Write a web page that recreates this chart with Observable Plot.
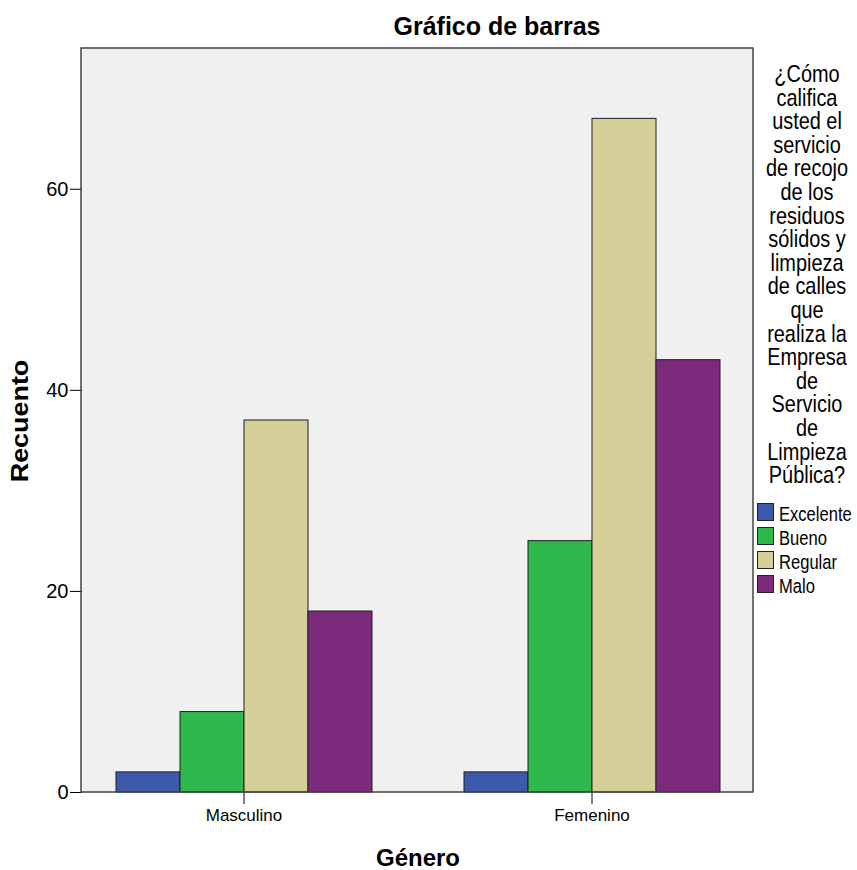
<!DOCTYPE html>
<html><head><meta charset="utf-8">
<script src="https://cdn.jsdelivr.net/npm/d3@7"></script>
<script src="https://cdn.jsdelivr.net/npm/@observablehq/plot@0.6"></script>
<style>
body{margin:0;background:#fff;}
#chart{width:857px;height:870px;}
</style></head><body><div id="chart"></div>
<script>
const genders = ["Masculino", "Femenino"];
const ratings = ["Excelente", "Bueno", "Regular", "Malo"];
const masculino = [2, 8, 37, 18];
const femenino = [2, 25, 67, 43];
const colors = ["#3d59ab", "#2fb84b", "#d4cf98", "#7c2a7c"];
const yTicks = [0, 20, 40, 60];
const titleText = "Gráfico de barras";
const yLabel = "Recuento";
const xLabel = "Género";
const legendTitleLines = ["¿Cómo", "califica", "usted el", "servicio", "de recojo", "de los", "residuos", "sólidos y", "limpieza", "de calles", "que", "realiza la", "Empresa", "de", "Servicio", "de", "Limpieza", "Pública?"];

const series = [masculino, femenino];
const data = genders.flatMap((g, gi) => ratings.map((r, ri) => ({gender: g, rating: r, count: series[gi][ri]})));

const W = 857, H = 870, mL = 81, mR = 104, mT = 48, mB = 78;
const FONT = "'Liberation Sans', Arial, sans-serif";

const svgEl = Plot.plot({
  width: W, height: H,
  marginLeft: mL, marginRight: mR, marginTop: mT, marginBottom: mB,
  style: {fontFamily: FONT, fontSize: "19px", color: "#000", background: "#fff", overflow: "visible"},
  fx: {domain: genders, paddingInner: 0.072, paddingOuter: 0, axis: "bottom", label: null, tickSize: 12, tickPadding: 4},
  x: {domain: ratings, padding: 0, inset: 33, axis: null},
  y: {domain: [0, 74], ticks: yTicks, tickSize: 12, tickPadding: 2, label: null, grid: false},
  color: {domain: ratings, range: colors},
  marks: [
    Plot.barY(data, {fx: "gender", x: "rating", y: "count", fill: "rating", stroke: "#1e1e1e", strokeWidth: 1})
  ]
});

const svg = d3.select(svgEl);
// plot-area background
svg.insert("rect", ":first-child")
  .attr("x", mL).attr("y", mT).attr("width", W - mL - mR).attr("height", H - mT - mB)
  .attr("fill", "#f0f0f0");
svg.insert("rect", ":first-child")
  .attr("x", 0).attr("y", 0).attr("width", W).attr("height", H).attr("fill", "#fff");
// frame
svg.append("rect")
  .attr("x", mL).attr("y", mT).attr("width", W - mL - mR).attr("height", H - mT - mB)
  .attr("fill", "none").attr("stroke", "#444").attr("stroke-width", 1.5);

svg.selectAll('[aria-label^="fx-axis"] text').style("font-size", "17px");
svg.selectAll('[aria-label^="y-axis"] text').style("font-size", "20px");

function addText(x, y, str, {size = 19, weight = "normal", sx = 1, anchor = "middle", rotate = 0} = {}) {
  return svg.append("text")
    .attr("transform", `translate(${x},${y}) rotate(${rotate}) scale(${sx},1)`)
    .attr("text-anchor", anchor)
    .attr("font-family", FONT)
    .attr("font-size", size)
    .attr("font-weight", weight)
    .attr("fill", "#000")
    .text(str);
}

addText(497, 35, titleText, {size: 25, weight: "bold"});
addText(28, 421, yLabel, {size: 23, weight: "bold", rotate: -90, sx: 1.17});
addText(418, 866, xLabel, {size: 24, weight: "bold"});

legendTitleLines.forEach((t, i) => addText(807, 82 + i * 23.6, t, {size: 24, sx: 0.83}));

const color = svgEl.scale("color");
ratings.forEach((r, i) => {
  const y0 = 503 + i * 24;
  svg.append("rect").attr("x", 757.5).attr("y", y0 + 0.5).attr("width", 16).attr("height", 17)
    .attr("fill", color.apply(r)).attr("stroke", "#222").attr("stroke-width", 1);
  addText(779, y0 + 18, r, {size: 19.5, sx: 0.85, anchor: "start"});
});

document.getElementById("chart").appendChild(svgEl);
</script>
</body></html>
